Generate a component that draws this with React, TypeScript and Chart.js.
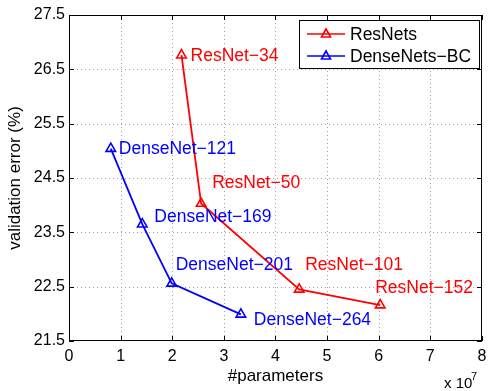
import React, { useEffect, useRef } from "react";
import { Chart, registerables } from "chart.js";

Chart.register(...registerables);

// Parameters in units of 1e7
const resnetNames = ["ResNet\u221234", "ResNet\u221250", "ResNet\u2212101", "ResNet\u2212152"];
const resnetParams = [2.18, 2.56, 4.46, 6.03];
const resnetError = [26.76, 24.03, 22.45, 22.16];

const densenetNames = ["DenseNet\u2212121", "DenseNet\u2212169", "DenseNet\u2212201", "DenseNet\u2212264"];
const densenetParams = [0.81, 1.42, 1.99, 3.33];
const densenetError = [25.04, 23.65, 22.56, 21.99];

const seriesNames = ["ResNets", "DenseNets\u2212BC"];
const xTicks = [0, 1, 2, 3, 4, 5, 6, 7, 8];
const yTicks = [21.5, 22.5, 23.5, 24.5, 25.5, 26.5, 27.5];

// label pixel offsets (style)
const resnetLabelOffsets = [
  [9, 1],
  [11, -20],
  [6, -24],
  [-5, -17],
];
const densenetLabelOffsets = [
  [8, 1],
  [12, -7],
  [4, -18],
  [13, 6],
];

const FONT = "Liberation Sans, Arial, Helvetica, sans-serif";
const RED = "#ff0000";
const BLUE = "#0000ff";

function drawTriangle(ctx: CanvasRenderingContext2D, x: number, y: number, r: number, color: string) {
  ctx.save();
  ctx.strokeStyle = color;
  ctx.lineWidth = 1.6;
  ctx.beginPath();
  ctx.moveTo(x, y - r);
  ctx.lineTo(x + r * 0.9, y + r * 0.6);
  ctx.lineTo(x - r * 0.9, y + r * 0.6);
  ctx.closePath();
  ctx.stroke();
  ctx.restore();
}

const gridPlugin = {
  id: "dottedGrid",
  beforeDatasetsDraw(chart: any) {
    const ctx: CanvasRenderingContext2D = chart.ctx;
    const xs = chart.scales.x;
    const ys = chart.scales.y;
    const ca = chart.chartArea;
    ctx.save();
    ctx.strokeStyle = "#a0a0a0";
    ctx.lineWidth = 1;
    ctx.setLineDash([1, 3]);
    xTicks.forEach((v, i) => {
      if (i === 0 || i === xTicks.length - 1) return;
      const px = Math.round(xs.getPixelForValue(v)) + 0.5;
      ctx.beginPath();
      ctx.moveTo(px, ca.top);
      ctx.lineTo(px, ca.bottom);
      ctx.stroke();
    });
    yTicks.forEach((v, i) => {
      if (i === 0 || i === yTicks.length - 1) return;
      const py = Math.round(ys.getPixelForValue(v)) + 0.5;
      ctx.beginPath();
      ctx.moveTo(ca.left, py);
      ctx.lineTo(ca.right, py);
      ctx.stroke();
    });
    ctx.restore();
  },
};

const overlayPlugin = {
  id: "overlay",
  afterDatasetsDraw(chart: any) {
    const ctx: CanvasRenderingContext2D = chart.ctx;
    const xs = chart.scales.x;
    const ys = chart.scales.y;
    const ca = chart.chartArea;

    // frame
    ctx.save();
    ctx.strokeStyle = "#000";
    ctx.lineWidth = 1;
    ctx.strokeRect(Math.round(ca.left) + 0.5, Math.round(ca.top) + 0.5, Math.round(ca.right - ca.left) - 1, Math.round(ca.bottom - ca.top) - 1);

    // inward ticks
    const tl = 5;
    xTicks.forEach((v) => {
      const px = Math.round(xs.getPixelForValue(v)) + 0.5;
      ctx.beginPath();
      ctx.moveTo(px, ca.bottom);
      ctx.lineTo(px, ca.bottom - tl);
      ctx.moveTo(px, ca.top);
      ctx.lineTo(px, ca.top + tl);
      ctx.stroke();
    });
    yTicks.forEach((v) => {
      const py = Math.round(ys.getPixelForValue(v)) + 0.5;
      ctx.beginPath();
      ctx.moveTo(ca.left, py);
      ctx.lineTo(ca.left + tl, py);
      ctx.moveTo(ca.right, py);
      ctx.lineTo(ca.right - tl, py);
      ctx.stroke();
    });

    // data labels
    ctx.font = `17.5px ${FONT}`;
    ctx.textAlign = "left";
    ctx.textBaseline = "middle";
    ctx.fillStyle = RED;
    resnetNames.forEach((n, i) => {
      const px = xs.getPixelForValue(resnetParams[i]);
      const py = ys.getPixelForValue(resnetError[i]);
      ctx.fillText(n, px + resnetLabelOffsets[i][0], py + resnetLabelOffsets[i][1]);
    });
    ctx.fillStyle = BLUE;
    densenetNames.forEach((n, i) => {
      const px = xs.getPixelForValue(densenetParams[i]);
      const py = ys.getPixelForValue(densenetError[i]);
      ctx.fillText(n, px + densenetLabelOffsets[i][0], py + densenetLabelOffsets[i][1]);
    });

    // legend
    const lx = 299, ly = 20, lw = 180, lh = 48;
    ctx.fillStyle = "#fff";
    ctx.fillRect(lx, ly, lw, lh);
    ctx.strokeStyle = "#000";
    ctx.lineWidth = 1;
    ctx.strokeRect(lx + 0.5, ly + 0.5, lw, lh);
    const rows = [
      { name: seriesNames[0], color: RED, y: 34 },
      { name: seriesNames[1], color: BLUE, y: 56 },
    ];
    rows.forEach((r) => {
      ctx.strokeStyle = r.color;
      ctx.lineWidth = 1.6;
      ctx.beginPath();
      ctx.moveTo(307, r.y);
      ctx.lineTo(345, r.y);
      ctx.stroke();
      drawTriangle(ctx, 326, r.y, 5, r.color);
      ctx.fillStyle = "#000";
      ctx.font = `17.5px ${FONT}`;
      ctx.textAlign = "left";
      ctx.textBaseline = "middle";
      ctx.fillText(r.name, 350, r.y + 1);
    });

    // axis titles
    ctx.fillStyle = "#000";
    ctx.font = `17px ${FONT}`;
    ctx.textAlign = "center";
    ctx.textBaseline = "middle";
    ctx.fillText("#parameters", (ca.left + ca.right) / 2, 376);
    ctx.save();
    ctx.translate(15, (ca.top + ca.bottom) / 2);
    ctx.rotate(-Math.PI / 2);
    ctx.fillText("validation error (%)", 0, 0);
    ctx.restore();

    // exponent
    ctx.textAlign = "left";
    ctx.textBaseline = "alphabetic";
    ctx.font = `15px ${FONT}`;
    ctx.fillText("x 10", 444, 388);
    ctx.font = `11px ${FONT}`;
    ctx.fillText("7", 471, 380);
    ctx.restore();
  },
};

export default function App() {
  const ref = useRef<HTMLCanvasElement | null>(null);
  useEffect(() => {
    document.body.style.margin = "0";
    const canvas = ref.current;
    if (!canvas) return;
    const chart = new Chart(canvas, {
      type: "line",
      data: {
        datasets: [
          {
            label: seriesNames[0],
            data: resnetParams.map((x, i) => ({ x, y: resnetError[i] })),
            borderColor: RED,
            backgroundColor: "rgba(0,0,0,0)",
            borderWidth: 1.8,
            pointStyle: "triangle",
            pointRadius: 5.5,
            pointBorderWidth: 1.6,
            pointBorderColor: RED,
            pointBackgroundColor: "rgba(0,0,0,0)",
            tension: 0,
          },
          {
            label: seriesNames[1],
            data: densenetParams.map((x, i) => ({ x, y: densenetError[i] })),
            borderColor: BLUE,
            backgroundColor: "rgba(0,0,0,0)",
            borderWidth: 1.8,
            pointStyle: "triangle",
            pointRadius: 5.5,
            pointBorderWidth: 1.6,
            pointBorderColor: BLUE,
            pointBackgroundColor: "rgba(0,0,0,0)",
            tension: 0,
          },
        ],
      },
      options: {
        animation: false,
        responsive: false,
        maintainAspectRatio: false,
        devicePixelRatio: 1,
        layout: { padding: { top: 15, right: 4, left: 0, bottom: 0 } },
        plugins: { legend: { display: false }, tooltip: { enabled: false } },
        scales: {
          x: {
            type: "linear",
            min: 0,
            max: 8,
            afterBuildTicks: (s: any) => {
              s.ticks = xTicks.map((v) => ({ value: v }));
            },
            afterFit: (s: any) => {
              s.height = 50;
              s.paddingLeft = 0;
              s.paddingRight = 0;
            },
            ticks: {
              color: "#000",
              font: { family: FONT, size: 16 },
              padding: 6,
              callback: (v: any) => String(v),
              maxRotation: 0,
            },
            grid: { display: false, drawTicks: false },
            border: { display: false },
          },
          y: {
            type: "linear",
            min: 21.5,
            max: 27.5,
            afterBuildTicks: (s: any) => {
              s.ticks = yTicks.map((v) => ({ value: v }));
            },
            afterFit: (s: any) => {
              s.width = 69;
              s.paddingTop = 0;
              s.paddingBottom = 0;
            },
            ticks: {
              color: "#000",
              font: { family: FONT, size: 16 },
              padding: 4,
              callback: (v: any) => Number(v).toFixed(1),
            },
            grid: { display: false, drawTicks: false },
            border: { display: false },
          },
        },
      },
      plugins: [gridPlugin, overlayPlugin],
    } as any);
    return () => chart.destroy();
  }, []);
  return <canvas ref={ref} width={489} height={391} style={{ display: "block" }} />;
}
